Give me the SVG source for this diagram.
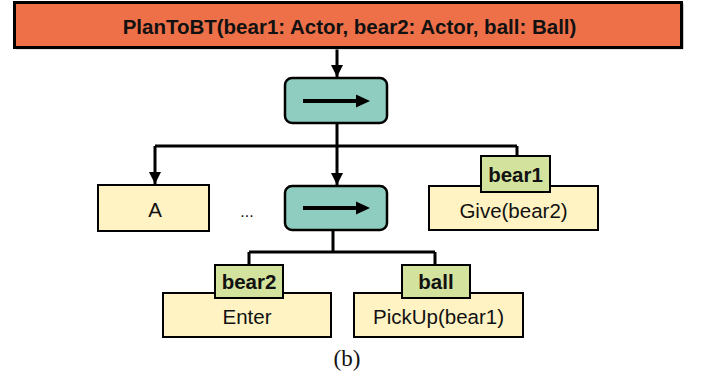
<svg xmlns="http://www.w3.org/2000/svg" width="703" height="377" viewBox="0 0 703 377">
  <defs>
    <marker id="ah" viewBox="0 0 10 10" refX="10" refY="5" markerWidth="4" markerHeight="4" markerUnits="strokeWidth" orient="auto">
      <path d="M0,0 L10,5 L0,10 Z" fill="#000"/>
    </marker>
    <style>
      .root { fill: #ED7048; stroke: #000; stroke-width: 3; }
      .seq { fill: #8ECDC0; stroke: #000; stroke-width: 2.5; }
      .act { fill: #FFF3C4; stroke: #000; stroke-width: 2; }
      .arg { fill: #D3E39E; stroke: #000; stroke-width: 2; }
      .wire { fill: none; stroke: #000; stroke-width: 3; }
      .glyph { stroke: #000; stroke-width: 4; }
      text { font-family: "Liberation Sans", Arial, sans-serif; font-size: 20.5px; text-anchor: middle; fill: #111; }
      .b { font-weight: bold; }
      .cap { font-family: "Liberation Serif", "Times New Roman", serif; font-size: 23px; }
    </style>
  </defs>

  <!-- connectors -->
  <g id="connectors">
    <line class="wire" x1="337" y1="49" x2="337" y2="77" marker-end="url(#ah)"/>
    <path class="wire" d="M337,123 V146 M155,146 H517"/>
    <line class="wire" x1="155" y1="146" x2="155" y2="184" marker-end="url(#ah)"/>
    <line class="wire" x1="337" y1="146" x2="337" y2="185" marker-end="url(#ah)"/>
    <line class="wire" x1="517" y1="146" x2="517" y2="156"/>
    <path class="wire" d="M333,230 V252 M249,252 H435 M249,252 V265 M435,252 V265"/>
  </g>

  <!-- root task -->
  <g id="root">
    <rect x="15" y="2.5" width="667" height="45" fill="none" stroke="#ccc" stroke-width="1" transform="translate(1.5,1.5)"/>
    <rect class="root" x="14.5" y="2.5" width="667" height="45"/>
    <text class="b" x="349.5" y="34">PlanToBT(bear1: Actor, bear2: Actor, ball: Ball)</text>
  </g>

  <!-- sequence 1 -->
  <g id="seq1">
    <rect class="seq" x="285" y="78" width="102" height="45" rx="7"/>
    <line class="glyph" x1="303" y1="101" x2="358" y2="101"/>
    <polygon points="356,94.5 370,101 356,107.5" fill="#000"/>
  </g>

  <!-- action A -->
  <g id="nodeA">
    <rect class="act" x="98" y="185" width="111" height="46"/>
    <text x="155" y="217">A</text>
  </g>

  <g id="ellipsis">
    <text x="247" y="217" style="font-size:16px">...</text>
  </g>

  <!-- sequence 2 -->
  <g id="seq2">
    <rect class="seq" x="285" y="186" width="102" height="44" rx="7"/>
    <line class="glyph" x1="303" y1="208" x2="358" y2="208"/>
    <polygon points="356,201.5 370,208 356,214.5" fill="#000"/>
  </g>

  <!-- Give(bear2) with actor bear1 -->
  <g id="give">
    <rect class="act" x="429" y="186" width="169" height="44"/>
    <text x="513.5" y="218">Give(bear2)</text>
    <rect class="arg" x="481" y="156" width="69" height="36"/>
    <text class="b" x="515.5" y="182">bear1</text>
  </g>

  <!-- Enter with actor bear2 -->
  <g id="enter">
    <rect class="act" x="163" y="293" width="168" height="44"/>
    <text x="247" y="324">Enter</text>
    <rect class="arg" x="215" y="265" width="68" height="33"/>
    <text class="b" x="249" y="289">bear2</text>
  </g>

  <!-- PickUp(bear1) with actor ball -->
  <g id="pickup">
    <rect class="act" x="354" y="293" width="169" height="44"/>
    <text x="438.5" y="324">PickUp(bear1)</text>
    <rect class="arg" x="402" y="265" width="68" height="33"/>
    <text class="b" x="436" y="289">ball</text>
  </g>

  <text class="cap" x="347" y="366">(b)</text>
</svg>
